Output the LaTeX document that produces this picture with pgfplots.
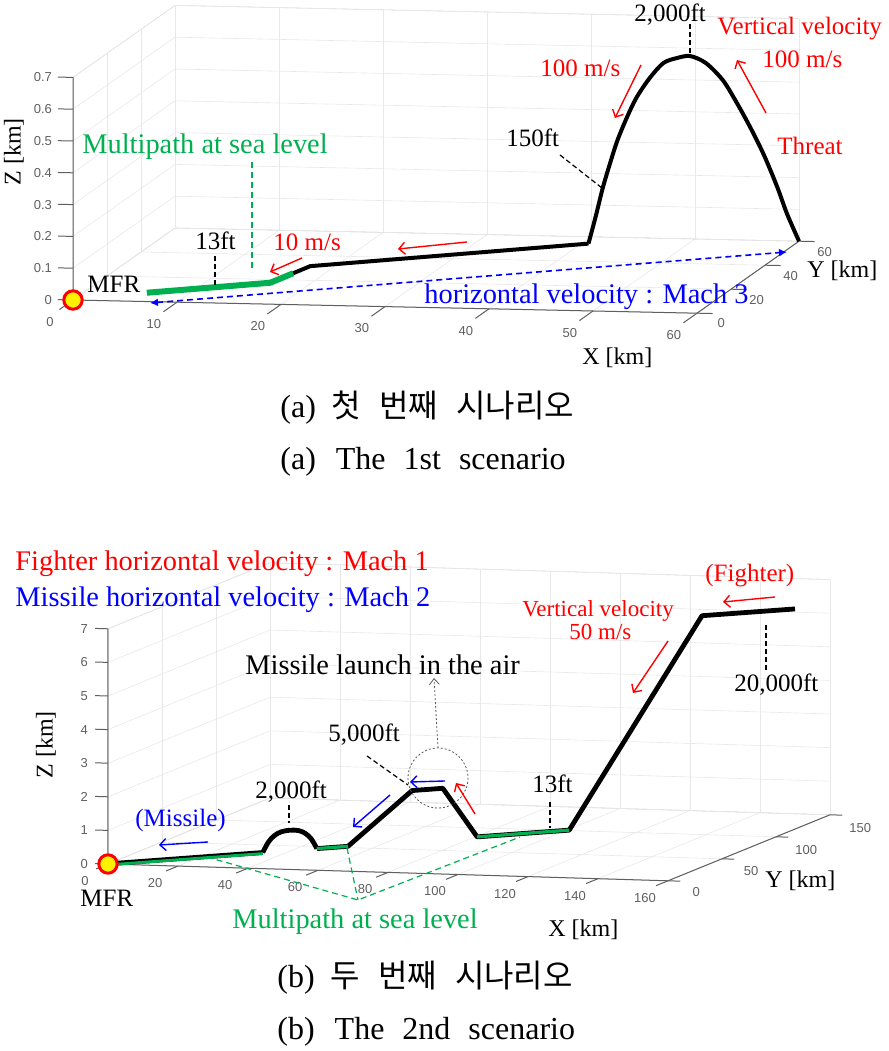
\documentclass[border=0pt]{standalone}
\usepackage{pgfplots}
\pgfplotsset{compat=1.18}
\usepackage{fontspec}
\setmainfont{Liberation Serif}
\setsansfont{Liberation Sans}
\newfontfamily\kr{Noto Sans CJK KR}
\usetikzlibrary{arrows.meta}
\definecolor{mgreen}{RGB}{0,176,80}
\definecolor{mred}{RGB}{255,0,0}
\definecolor{mblue}{RGB}{0,0,255}
\definecolor{tickgray}{RGB}{95,95,95}
\newcommand\fa{\fontsize{12.5}{14}\selectfont}
\newcommand\fb{\fontsize{14.2}{16}\selectfont}
\newcommand\fc{\fontsize{16}{18}\selectfont}
\newcommand\fl{\fontsize{12}{14}\selectfont}
\pgfplotsset{
  my3d/.style={
    anchor=origin,
    grid=major,
    grid style={gray!18, line width=0.3pt},
    axis line style={gray!30, line width=0.3pt},
    tick style={draw=none},
    tick align=outside,
    tick pos=left,
    major tick length=0pt,
    ticklabel style={font=\sffamily\fontsize{6.5}{7}\selectfont, text=tickgray},
    zticklabel style={anchor=east},
    /pgf/number format/assume math mode=true,
    clip=false,
  }
}
\tikzset{
  rarr/.style={mred, line width=0.7pt, -{Straight Barb[length=3pt,width=6pt]}},
  barr/.style={mblue, line width=0.7pt, -{Straight Barb[length=3pt,width=6pt]}},
  lead/.style={black, line width=0.6pt, dash pattern=on 2.5pt off 1.5pt},
  t/.style={anchor=base west, inner sep=0pt},
  tk/.style={tickgray, line width=0.5pt},
}
\begin{document}
\begin{tikzpicture}
\useasboundingbox (0,0) rectangle (444.5pt,525.5pt);

% ---------------- (a) ----------------
\begin{axis}[my3d, at={(36.5pt,375.5pt)},
  x={(5.2pt,-0.11pt)}, y={(0.85pt,0.6pt)}, z={(0pt,159pt)},
  xmin=0, xmax=60, ymin=0, ymax=60, zmin=0, zmax=0.7,
  xtick={0,10,20,30,40,50,60}, ytick={0,20,40,60},
  ztick={0,0.1,0.2,0.3,0.4,0.5,0.6,0.7},
  xticklabel style={xshift=-8.5pt, yshift=-5pt},
  yticklabel style={xshift=6.5pt, yshift=1pt},
  zticklabel style={xshift=-7pt},
]
\draw[tickgray, line width=0.5pt] (axis cs:0,0,0.7) -- (axis cs:0,0,0) -- (axis cs:60,0,0) -- (axis cs:60,60,0);
\pgfplotsinvokeforeach{0,10,20,30,40,50,60}{\draw[tk] (axis cs:#1,0,0) -- (axis cs:#1,-8,0);}
\pgfplotsinvokeforeach{0,20,40,60}{\draw[tk] (axis cs:60,#1,0) -- (axis cs:61.5,#1,0);}
\pgfplotsinvokeforeach{0,0.1,0.2,0.3,0.4,0.5,0.6,0.7}{\draw[tk] (axis cs:0,0,#1) -- (axis cs:-1.45,0,#1);}
\addplot3[mgreen, line width=3pt] coordinates {(6.1,6.1,0.004) (16.3,16.3,0.004) (18.2,18.2,0.028)};
\addplot3[black, line width=2pt, line join=round] coordinates {
(18.2,18.2,0.028) (19.6,19.6,0.046) (42.6,42.6,0.046)};
\addplot3[black, line width=2pt, smooth, line join=round] coordinates {
(42.6,42.6,0.046)
(43.2,43.2,0.13) (43.8,43.8,0.22) (44.4,44.4,0.295) (45.0,45.0,0.364)
(45.8,45.8,0.435) (46.6,46.6,0.495) (47.7,47.7,0.553) (48.8,48.8,0.595)
(49.9,49.9,0.607) (51.0,51.0,0.61) (52.3,52.3,0.584) (53.7,53.7,0.526)
(54.8,54.8,0.455) (55.95,55.95,0.372) (57.1,57.1,0.28) (58.2,58.2,0.176)
(59.0,59.0,0.09) (60,60,0)};
\addplot3[only marks, mark=*, mark size=4.6pt, mark options={fill=yellow, draw=red, line width=1.5pt}] coordinates {(0,0,0)};
\end{axis}

% ---------------- (b) ----------------
\begin{axis}[my3d, at={(54pt,93.5pt)},
  x={(1.75pt,-0.0525pt)}, y={(0.54pt,0.22pt)}, z={(0pt,16.8pt)},
  xmin=0, xmax=160, ymin=0, ymax=150, zmin=0, zmax=7,
  xtick={0,20,40,60,80,100,120,140,160}, ytick={0,50,100,150},
  ztick={0,1,2,3,4,5,6,7},
  xticklabel style={xshift=-7.5pt, yshift=-2.5pt},
  yticklabel style={xshift=8.5pt},
  zticklabel style={xshift=-6.5pt},
]
\draw[tickgray, line width=0.5pt] (axis cs:0,0,7) -- (axis cs:0,0,0) -- (axis cs:160,0,0) -- (axis cs:160,150,0);
\pgfplotsinvokeforeach{0,20,40,60,80,100,120,140,160}{\draw[tk] (axis cs:#1,0,0) -- (axis cs:#1,-11,0);}
\pgfplotsinvokeforeach{0,50,100,150}{\draw[tk] (axis cs:160,#1,0) -- (axis cs:163.5,#1,0);}
\pgfplotsinvokeforeach{0,1,2,3,4,5,6,7}{\draw[tk] (axis cs:0,0,#1) -- (axis cs:-3.7,0,#1);}
\addplot3[black, line width=2.4pt, line join=round] coordinates {
(150,150,6.096) (129.7,129.7,6.096) (100.7,100.7,0.004) (80.6,80.6,0.004)
(73.1,73.1,1.524) (66.4,66.4,1.524) (52.4,52.4,0.004) (45.6,45.6,0.004)};
\addplot3[black, line width=2.4pt, smooth, tension=0.6, line join=round] coordinates {
(45.6,45.6,0.004) (44.4,44.4,0.3) (43.1,43.1,0.48) (41.6,41.6,0.58) (39.7,39.7,0.61)
(37.8,37.8,0.58) (36.3,36.3,0.48) (35.0,35.0,0.3) (33.8,33.8,0.004)};
\addplot3[black, line width=2.4pt] coordinates {(33.8,33.8,0.004) (0,0,0.004)};
\addplot3[mgreen, line width=1.4pt, yshift=-0.5pt] coordinates {(0,0,0.004) (33.8,33.8,0.004)};
\addplot3[mgreen, line width=1.6pt] coordinates {(45.6,45.6,0.004) (52.4,52.4,0.004)};
\addplot3[mgreen, line width=1.6pt] coordinates {(80.6,80.6,0.004) (100.7,100.7,0.004)};
\addplot3[only marks, mark=*, mark size=4.6pt, mark options={fill=yellow, draw=red, line width=1.5pt}] coordinates {(0,0,0)};
\end{axis}

% ---------------- annotations (pixel coords) ----------------
\begin{scope}[x=0.5pt, y=-0.5pt, yshift=525.5pt]
% (a)
\node[t, text=mgreen, font=\fb] at (82,154) {Multipath at sea level};
\draw[mgreen, line width=0.6pt, dash pattern=on 3pt off 2pt] (252,162) -- (252,272);
\node[t, font=\fa] at (195,250) {13ft};
\draw[lead] (215,256) -- (215,285);
\node[t, text=mred, font=\fa] at (273,251) {10 m/s};
\draw[rarr] (302,258) -- (270,272);
\draw[rarr] (467,242) -- (398,249);
\node[t, font=\fa] at (87,293) {MFR};
\node[t, font=\fa] at (634,22) {2,000ft};
\draw[lead] (690,24) -- (690,53);
\node[t, text=mred, font=\fa] at (717,35) {Vertical velocity};
\node[t, text=mred, font=\fa] at (762,68) {100 m/s};
\node[t, text=mred, font=\fa] at (540,77) {100 m/s};
\node[t, text=mred, font=\fa] at (777,155) {Threat};
\node[t, font=\fa] at (506,147) {150ft};
\draw[lead] (560,155) -- (602,188);
\draw[rarr] (641,65) -- (615,118);
\draw[rarr] (766,113) -- (737,60);
\draw[mblue, line width=0.8pt, dash pattern=on 3pt off 2pt, {Latex[length=4pt,width=4pt]}-{Latex[length=4pt,width=4pt]}] (150,303) -- (787,252);
\node[t, text=mblue, font=\fb] at (424,304) {horizontal velocity : Mach 3};
\node[t, font=\fl] at (582,365) {X [km]};
\node[t, font=\fl] at (807,278) {Y [km]};
\node[font=\fl, rotate=90, inner sep=0pt] at (14,152) {Z [km]};
% captions (a)
\node[t, font=\fc] at (280,418) {(a)\hspace{8pt}{\kr 첫}\hspace{9pt}{\kr 번째}\hspace{9pt}{\kr 시나리오}};
\node[t, font=\fc] at (280,470) {(a)\hspace{10pt}The\hspace{9pt}1st\hspace{9pt}scenario};

% (b)
\node[t, text=mred, font=\fb] at (15,571) {Fighter horizontal velocity : Mach 1};
\node[t, text=mblue, font=\fb] at (15,607) {Missile horizontal velocity : Mach 2};
\node[t, text=mblue, font=\fa] at (135,827) {(Missile)};
\draw[barr] (208,842) -- (159,845);
\node[t, font=\fa] at (255,799) {2,000ft};
\draw[lead] (289,805) -- (289,823);
\node[t, font=\fa] at (328,742) {5,000ft};
\draw[lead] (367,756) -- (408,785);
\node[t, font=\fb] at (245,675) {Missile launch in the air};
\draw[gray!70!black, line width=0.4pt, dash pattern=on 1pt off 1pt] (438,778) circle (30);
\draw[gray!70!black, line width=0.4pt, dash pattern=on 1pt off 1pt, -{Straight Barb[length=3pt,width=5pt]}] (438,748) -- (434,678);
\draw[barr] (445,781) -- (410,782);
\draw[rarr] (475,814) -- (456,783);
\draw[barr] (390,795) -- (353,827);
\node[t, font=\fa] at (532,793) {13ft};
\draw[lead] (550,802) -- (550,828);
\node[t, text=mred, font=\fontsize{11.5}{13}\selectfont] at (522,617) {Vertical velocity};
\node[t, text=mred, font=\fontsize{11.5}{13}\selectfont] at (569,640) {50 m/s};
\draw[rarr] (668,641) -- (633,693);
\node[t, text=mred, font=\fa] at (705,582) {(Fighter)};
\draw[rarr] (775,597) -- (723,602);
\node[t, font=\fa] at (734,692) {20,000ft};
\draw[lead] (766,625) -- (766,672);
\node[t, font=\fa] at (80,907) {MFR};
\node[t, text=mgreen, font=\fb] at (232,929) {Multipath at sea level};
\draw[mgreen, line width=0.6pt, dash pattern=on 3pt off 2pt] (207,857) -- (358,900) -- (520,837);
\draw[mgreen, line width=0.6pt, dash pattern=on 3pt off 2pt] (347,848) -- (358,900);
\node[t, font=\fl] at (548,937) {X [km]};
\node[t, font=\fl] at (765,888) {Y [km]};
\node[font=\fl, rotate=90, inner sep=0pt] at (46,745) {Z [km]};
% captions (b)
\node[t, font=\fc] at (277,988) {(b)\hspace{8pt}{\kr 두}\hspace{9pt}{\kr 번째}\hspace{9pt}{\kr 시나리오}};
\node[t, font=\fc] at (277,1040) {(b)\hspace{10pt}The\hspace{9pt}2nd\hspace{9pt}scenario};
\end{scope}
\end{tikzpicture}
\end{document}
